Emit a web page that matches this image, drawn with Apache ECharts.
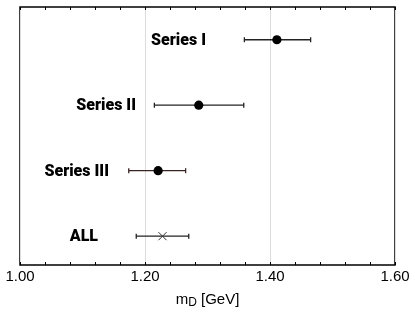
<!DOCTYPE html>
<html><head><meta charset="utf-8">
<script src="https://cdn.jsdelivr.net/npm/echarts@6/dist/echarts.min.js"></script>
<style>html,body{margin:0;padding:0;background:#fff}#c{width:415px;height:312px}</style>
</head><body><div id="c"></div>
<script>
var categories = ['Series I', 'Series II', 'Series III', 'ALL'];
var centers = [1.411, 1.286, 1.221, 1.228];
var lower = [1.359, 1.215, 1.174, 1.186];
var upper = [1.465, 1.358, 1.265, 1.270];
var rows = [3, 2, 1, 0];
var labelX = [1.2976, 1.1856, 1.1424, 1.1248];
var markers = ['circle', 'circle', 'circle', 'cross'];
var barColors = ['#222', '#222', '#3a2424', '#222'];
var xTicks = [1.0, 1.2, 1.4, 1.6];

var data = categories.map(function (c, i) {
  return [centers[i], rows[i], lower[i], upper[i], labelX[i], i];
});

var chart = echarts.init(document.getElementById('c'));
chart.setOption({
  animation: false,
  grid: { left: 20, right: 20, top: 7, bottom: 47, outerBoundsMode: 'none', containLabel: false,
    show: true, borderColor: '#000', borderWidth: 1.5, backgroundColor: 'transparent' },
  xAxis: [{
    type: 'value', min: xTicks[0], max: xTicks[xTicks.length - 1], interval: 0.2,
    position: 'bottom',
    axisLine: { show: false, onZero: false },
    axisTick: { show: true, inside: true, length: 3, lineStyle: { color: '#000' } },
    minorTick: { show: true, splitNumber: 5, length: 3, lineStyle: { color: '#000' } },
    splitLine: { show: true, lineStyle: { color: '#dcdcdc', width: 1 } },
    axisLabel: { fontFamily: 'Liberation Sans', fontSize: 15, color: '#000', margin: 4,
      formatter: function (v) { return v.toFixed(2); } },
    name: '{m|m}{d|D}{m| [GeV]}', nameLocation: 'middle', nameGap: 25,
    nameTextStyle: { rich: {
      m: { fontFamily: 'Liberation Sans', fontSize: 15, color: '#000' },
      d: { fontFamily: 'Liberation Sans', fontSize: 12, color: '#000', padding: [7, 0, 0, 0] }
    } }
  }, {
    type: 'value', min: xTicks[0], max: xTicks[xTicks.length - 1], interval: 0.2,
    position: 'top',
    axisLine: { show: false, onZero: false },
    axisTick: { show: true, inside: true, length: 3, lineStyle: { color: '#000' } },
    minorTick: { show: true, splitNumber: 5, length: 3, lineStyle: { color: '#000' } },
    splitLine: { show: false },
    axisLabel: { show: false }
  }],
  yAxis: { type: 'value', min: -0.44, max: 3.5, show: false, splitLine: { show: false } },
  series: [{
    type: 'custom',
    xAxisIndex: 0,
    data: data,
    renderItem: function (params, api) {
      var c = api.coord([api.value(0), api.value(1)]);
      var lo = api.coord([api.value(2), api.value(1)]);
      var hi = api.coord([api.value(3), api.value(1)]);
      var lb = api.coord([api.value(4), api.value(1)]);
      var idx = api.value(5);
      var col = barColors[idx];
      var cap = 2.5;
      var children = [
        { type: 'line', shape: { x1: lo[0], y1: c[1], x2: hi[0], y2: c[1] }, style: { stroke: col, lineWidth: 1.3 } },
        { type: 'line', shape: { x1: lo[0], y1: c[1] - cap, x2: lo[0], y2: c[1] + cap }, style: { stroke: col, lineWidth: 1.3 } },
        { type: 'line', shape: { x1: hi[0], y1: c[1] - cap, x2: hi[0], y2: c[1] + cap }, style: { stroke: col, lineWidth: 1.3 } }
      ];
      if (markers[idx] === 'circle') {
        children.push({ type: 'circle', shape: { cx: c[0], cy: c[1], r: 4.6 }, style: { fill: '#000' } });
      } else {
        var s = 4;
        children.push({ type: 'line', shape: { x1: c[0] - s, y1: c[1] - s, x2: c[0] + s, y2: c[1] + s }, style: { stroke: '#333', lineWidth: 1 } });
        children.push({ type: 'line', shape: { x1: c[0] - s, y1: c[1] + s, x2: c[0] + s, y2: c[1] - s }, style: { stroke: '#333', lineWidth: 1 } });
      }
      children.push({ type: 'text', x: lb[0], y: c[1] + 1, style: {
        text: categories[idx], fill: '#000', align: 'right', verticalAlign: 'middle',
        font: '900 16px Roboto'
      } });
      return { type: 'group', children: children };
    }
  }]
});
</script>
</body></html>
